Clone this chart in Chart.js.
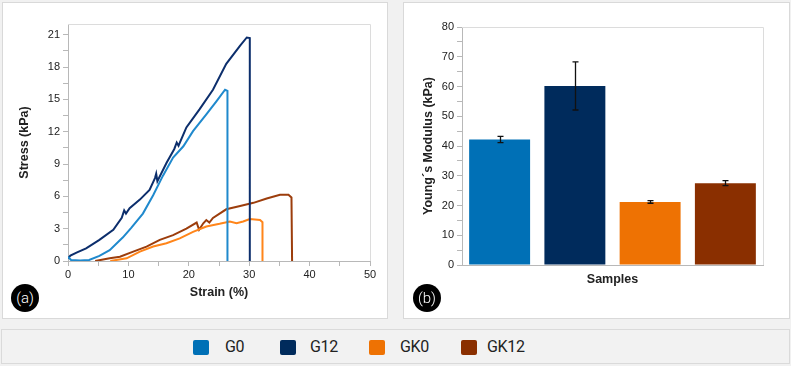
<!DOCTYPE html>
<html><head><meta charset="utf-8">
<script src="https://cdn.jsdelivr.net/npm/chart.js@4.4.1/dist/chart.umd.min.js"></script>
<style>
html,body{margin:0;padding:0;background:#f1f1f1;width:791px;height:366px;overflow:hidden;font-family:"Liberation Sans",Arial,sans-serif}
.panel{position:absolute;background:#fff;border:1px solid #d9d9d9;box-sizing:border-box}
#pa{left:2px;top:2px;width:386px;height:317px}
#pb{left:403px;top:2px;width:387px;height:317px}
.cv{position:absolute}
#ca{left:2px;top:2px}
#cb{left:403px;top:2px}
.badge{position:absolute;width:28px;height:28px;border-radius:50%;background:#000;color:#fff;font:300 15px Roboto,sans-serif;text-align:center;line-height:28px}
#legend{position:absolute;left:1px;top:329px;width:789px;height:35px;background:#f2f2f2;border:1px solid #dadada;box-sizing:border-box}
.sq{position:absolute;top:340px;width:16px;height:15px;border-radius:2px}
.lt{position:absolute;top:337px;font:16px Roboto,sans-serif;color:#222;line-height:20px;letter-spacing:-0.3px}
</style>
</head><body>
<div class="panel" id="pa"></div>
<div class="panel" id="pb"></div>
<div class="cv" id="ca" style="width:386px;height:317px"><canvas id="chartA"></canvas></div>
<div class="cv" id="cb" style="width:387px;height:317px"><canvas id="chartB"></canvas></div>
<div class="badge" style="left:11px;top:284px">(a)</div>
<div class="badge" style="left:413px;top:284px">(b)</div>
<div id="legend"></div>
<div id="legendItems"></div>
<script>
// ---- Data: stress-strain curves (panel a) ----
const g0Strain  = [0, 0.5, 2, 3.5, 5.2, 6.9, 9.1, 10.5, 12.4, 14.1, 15.7, 17.4, 19.1, 20.7, 22.9, 24.6, 26.0, 26.4, 26.4];
const g0Stress  = [0.4, 0.1, 0.05, 0.1, 0.47, 1.0, 2.2, 3.1, 4.4, 6.1, 7.9, 9.6, 10.65, 12.05, 13.6, 14.85, 15.9, 15.8, 0];
const g12Strain = [0, 0.4, 1.5, 3.0, 5.2, 7.5, 8.9, 9.3, 9.6, 10.2, 11.9, 13.5, 14.4, 14.6, 14.8, 16.3, 17.6, 18.0, 18.3, 19.6, 21.8, 24.0, 26.2, 28.5, 29.6, 30.1, 30.1];
const g12Stress = [0.25, 0.5, 0.8, 1.18, 1.96, 2.9, 4.0, 4.7, 4.4, 4.9, 5.7, 6.6, 7.7, 8.1, 7.4, 9.1, 10.4, 11.0, 10.7, 12.4, 14.1, 15.9, 18.3, 20.0, 20.75, 20.7, 0];
const gk0Strain = [7.0, 9.7, 11.9, 14.1, 16.3, 18.5, 20.7, 22.9, 25.1, 26.8, 27.9, 29.0, 30.1, 31.8, 32.2, 32.2];
const gk0Stress = [0, 0.25, 0.87, 1.34, 1.65, 2.1, 2.7, 3.2, 3.45, 3.67, 3.5, 3.67, 3.9, 3.8, 3.6, 0];
const gk12Strain = [4.5, 6.9, 8.6, 10.8, 13.0, 15.2, 17.4, 19.6, 21.3, 21.7, 22.4, 22.9, 23.4, 24.0, 26.2, 28.5, 30.7, 32.9, 35.1, 36.5, 37.0, 37.1];
const gk12Stress = [0, 0.25, 0.4, 0.87, 1.34, 1.96, 2.4, 3.0, 3.57, 2.9, 3.5, 3.8, 3.57, 4.0, 4.8, 5.1, 5.4, 5.8, 6.15, 6.15, 5.9, 0];

// ---- Data: Young's modulus (panel b) ----
const samples = ['G0', 'G12', 'GK0', 'GK12'];
const modulus = [42.2, 60.2, 21.2, 27.5];
const modulusErr = [1.05, 8.1, 0.45, 0.85];

// ---- Axis tick settings ----
const strainTicks = [0, 10, 20, 30, 40, 50];
const stressTicks = [0, 3, 6, 9, 12, 15, 18, 21];
const modulusTicks = [0, 10, 20, 30, 40, 50, 60, 70, 80];

const lineColors = ['#1f89cd', '#0c2e6c', '#ff851a', '#9c3d0c'];
const barColors  = ['#0070b6', '#002b5c', '#ee7203', '#8a2f00'];

const pts = (xs, ys) => xs.map((x, i) => ({x, y: ys[i]}));

const frame = {
  id: 'frame',
  beforeDatasetsDraw(chart) {
    const {ctx, chartArea: a} = chart;
    ctx.save();
    ctx.strokeStyle = '#dcdcdc';
    ctx.lineWidth = 1;
    ctx.beginPath();
    ctx.moveTo(a.left, a.top + 0.5); ctx.lineTo(a.right + 0.5, a.top + 0.5); ctx.lineTo(a.right + 0.5, a.bottom);
    ctx.stroke();
    ctx.restore();
  }
};

const tickFont = {family: '"Liberation Sans", Arial, sans-serif', size: 11};
const titleFont = {family: '"Liberation Sans", Arial, sans-serif', size: 12.5, weight: 'bold'};
const axisGray = '#b8b8b8';

new Chart(document.getElementById('chartA'), {
  type: 'line',
  data: {
    datasets: [
      {label: 'G0', data: pts(g0Strain, g0Stress), borderColor: lineColors[0]},
      {label: 'G12', data: pts(g12Strain, g12Stress), borderColor: lineColors[1]},
      {label: 'GK0', data: pts(gk0Strain, gk0Stress), borderColor: lineColors[2]},
      {label: 'GK12', data: pts(gk12Strain, gk12Stress), borderColor: lineColors[3]}
    ]
  },
  options: {
    responsive: true, maintainAspectRatio: false, animation: false,
    layout: {padding: {top: 22, right: 18, left: 0, bottom: 0}},
    elements: {point: {radius: 0}, line: {borderWidth: 2, tension: 0}},
    plugins: {legend: {display: false}, tooltip: {enabled: false}},
    scales: {
      x: {
        type: 'linear', min: 0, max: 50,
        afterFit: s => { s.height = 58; },
        afterBuildTicks: s => { s.ticks = []; for (let v = 0; v <= 50; v += 5) s.ticks.push({value: v}); },
        ticks: {autoSkip: false, maxRotation: 0, color: '#222', font: tickFont, padding: 2,
          callback: v => strainTicks.includes(v) ? String(v) : ''},
        grid: {drawOnChartArea: false, tickLength: 5, color: axisGray},
        border: {color: axisGray},
        title: {display: true, text: 'Strain (%)', color: '#222', font: titleFont, padding: {top: 0, bottom: 18.5}}
      },
      y: {
        type: 'linear', min: 0, max: 22,
        afterFit: s => { s.width = 66; },
        afterBuildTicks: s => { s.ticks = []; for (let v = 0; v <= 21; v += 1.5) s.ticks.push({value: v}); },
        ticks: {autoSkip: false, color: '#222', font: tickFont, padding: 3,
          callback: v => stressTicks.includes(v) ? String(v) : ''},
        grid: {drawOnChartArea: false, tickLength: 5, color: axisGray},
        border: {color: axisGray},
        title: {display: true, text: 'Stress (kPa)', color: '#222', font: titleFont, padding: {top: 15, bottom: 0}}
      }
    }
  },
  plugins: [frame]
});

const errorBars = {
  id: 'errorBars',
  afterDatasetsDraw(chart) {
    const {ctx} = chart;
    const meta = chart.getDatasetMeta(0);
    const ys = chart.scales.y;
    ctx.save();
    ctx.strokeStyle = '#111';
    ctx.lineWidth = 1.3;
    meta.data.forEach((el, i) => {
      const v = modulus[i], e = modulusErr[i];
      const yt = ys.getPixelForValue(v + e), yb = ys.getPixelForValue(v - e);
      const x = Math.round(el.x) + 0.5;
      ctx.beginPath();
      ctx.moveTo(x, yt); ctx.lineTo(x, yb);
      ctx.moveTo(x - 3, yt); ctx.lineTo(x + 3, yt);
      ctx.moveTo(x - 3, yb); ctx.lineTo(x + 3, yb);
      ctx.stroke();
    });
    ctx.restore();
  }
};

new Chart(document.getElementById('chartB'), {
  type: 'bar',
  data: {
    labels: samples,
    datasets: [{label: "Young´s Modulus", data: modulus, backgroundColor: barColors,
      borderColor: 'rgba(255,255,255,0.35)', borderWidth: 0,
      categoryPercentage: 0.9, barPercentage: 0.9}]
  },
  options: {
    responsive: true, maintainAspectRatio: false, animation: false,
    layout: {padding: {top: 25, right: 27, left: 0, bottom: 0}},
    plugins: {legend: {display: false}, tooltip: {enabled: false}},
    scales: {
      x: {
        afterFit: s => { s.height = 54; },
        ticks: {display: false},
        grid: {display: false},
        border: {color: axisGray},
        title: {display: true, text: 'Samples', color: '#222', font: titleFont, padding: {top: 0, bottom: 31.5}}
      },
      y: {
        min: 0, max: 80,
        afterFit: s => { s.width = 59; },
        afterBuildTicks: s => { s.ticks = []; for (let v = 0; v <= 80; v += 5) s.ticks.push({value: v}); },
        ticks: {autoSkip: false, color: '#222', font: tickFont, padding: 3,
          callback: v => modulusTicks.includes(v) ? String(v) : ''},
        grid: {drawOnChartArea: false, tickLength: 5, color: axisGray},
        border: {color: axisGray},
        title: {display: true, text: 'Young´s Modulus (kPa)', color: '#222', font: titleFont, padding: {top: 18, bottom: 0}}
      }
    }
  },
  plugins: [frame, errorBars]
});

// ---- HTML legend ----
const legendSquareX = [193, 280, 369, 461];
const legendTextX = [225, 310, 400, 487];
const li = document.getElementById('legendItems');
samples.forEach((s, i) => {
  const sq = document.createElement('div');
  sq.className = 'sq'; sq.style.left = legendSquareX[i] + 'px'; sq.style.background = barColors[i];
  const t = document.createElement('div');
  t.className = 'lt'; t.style.left = legendTextX[i] + 'px'; t.textContent = s;
  li.appendChild(sq); li.appendChild(t);
});
</script>
</body></html>
